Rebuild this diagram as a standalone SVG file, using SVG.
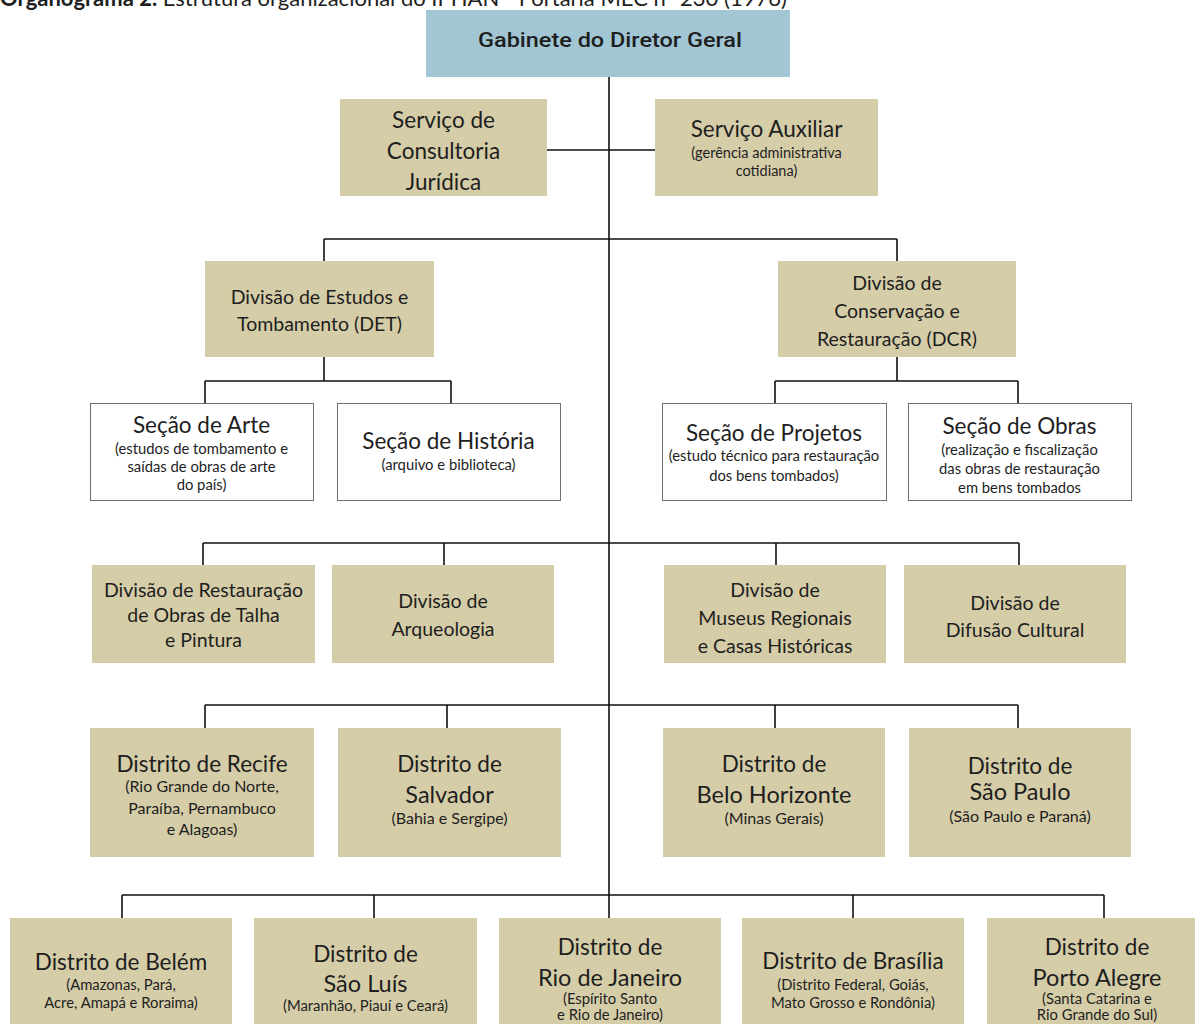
<svg xmlns="http://www.w3.org/2000/svg" width="1195" height="1024" viewBox="0 0 1195 1024">
<style>
.tan{fill:#d5cda8}
.wht{fill:#fff;stroke:#6e6e6e;stroke-width:1}
.blue{fill:#a2c6d4}
text{font-family:Lato,"Open Sans","Liberation Sans",sans-serif;fill:#1e1e1e;text-anchor:middle}
.t{font-size:22.5px}
.c{font-size:19.5px}
.s{font-size:14.5px}
.m{font-size:14.8px}
.d{font-size:16px}
.big{font-size:23.5px}
.conn path{stroke:#111;stroke-width:1.6;fill:none}
</style>
<text x="0" y="6" style="text-anchor:start;font-size:22px"><tspan font-weight="bold">Organograma 2.</tspan> Estrutura organizacional do IPHAN - Portaria MEC nº 230 (1976)</text>
<g class="conn">
<path d="M609 77V918"/>
<path d="M547 150H655"/>
<path d="M324 239H897M324 239V261M897 239V261"/>
<path d="M324 357V381M205 381H451M205 381V403M451 381V403"/>
<path d="M897 357V381M775 381H1018M775 381V403M1018 381V403"/>
<path d="M203 543H1019M203 543V565M444 543V565M776 543V565M1019 543V565"/>
<path d="M205 705H1018M205 705V728M447 705V728M775 705V728M1018 705V728"/>
<path d="M122 895H1104M122 895V918M374 895V918M853 895V918M1104 895V918"/>
</g>
<g id="gabinete"><rect class="blue" x="426" y="10" width="364" height="67"/><text x="610" y="47" textLength="264" lengthAdjust="spacingAndGlyphs" style="font-family:Roboto,'Liberation Sans',sans-serif;font-weight:500;font-size:21px">Gabinete do Diretor Geral</text></g>
<g id="consultoria"><rect class="tan" x="340" y="99" width="207" height="97"/><text class="t" x="443.5" y="128">Serviço de</text><text class="t" x="443.5" y="159">Consultoria</text><text class="t" x="443.5" y="190">Jurídica</text></g>
<g id="auxiliar"><rect class="tan" x="655" y="99" width="223" height="97"/><text class="t" x="766.5" y="137">Serviço Auxiliar</text><text class="s" x="766.5" y="158">(gerência administrativa</text><text class="s" x="766.5" y="176">cotidiana)</text></g>
<g id="det"><rect class="tan" x="205" y="261" width="229" height="96"/><text class="c" x="319.5" y="304">Divisão de Estudos e</text><text class="c" x="319.5" y="331">Tombamento (DET)</text></g>
<g id="dcr"><rect class="tan" x="778" y="261" width="238" height="96"/><text class="c" x="897" y="290">Divisão de</text><text class="c" x="897" y="318">Conservação e</text><text class="c" x="897" y="346">Restauração (DCR)</text></g>
<g id="arte"><rect class="wht" x="90.5" y="403.5" width="223" height="97"/><text class="t" x="201.5" y="433">Seção de Arte</text><text class="m" x="201.5" y="454">(estudos de tombamento e</text><text class="m" x="201.5" y="472">saídas de obras de arte</text><text class="m" x="201.5" y="490">do país)</text></g>
<g id="historia"><rect class="wht" x="337.5" y="403.5" width="223" height="97"/><text class="t" x="448.5" y="449">Seção de História</text><text class="m" x="448.5" y="470">(arquivo e biblioteca)</text></g>
<g id="projetos"><rect class="wht" x="662.5" y="403.5" width="224" height="97"/><text class="t" x="774" y="441">Seção de Projetos</text><text class="m" x="774" y="461">(estudo técnico para restauração</text><text class="m" x="774" y="481">dos bens tombados)</text></g>
<g id="obras"><rect class="wht" x="908.5" y="403.5" width="223" height="97"/><text class="t" x="1019.5" y="434">Seção de Obras</text><text class="m" x="1019.5" y="455">(realização e fiscalização</text><text class="m" x="1019.5" y="474">das obras de restauração</text><text class="m" x="1019.5" y="493">em bens tombados</text></g>
<g id="talha"><rect class="tan" x="92" y="565" width="223" height="98"/><text class="c" x="203.5" y="597">Divisão de Restauração</text><text class="c" x="203.5" y="622">de Obras de Talha</text><text class="c" x="203.5" y="647">e Pintura</text></g>
<g id="arqueologia"><rect class="tan" x="332" y="565" width="222" height="98"/><text class="c" x="443" y="608">Divisão de</text><text class="c" x="443" y="636">Arqueologia</text></g>
<g id="museus"><rect class="tan" x="664" y="565" width="222" height="98"/><text class="c" x="775" y="597">Divisão de</text><text class="c" x="775" y="625">Museus Regionais</text><text class="c" x="775" y="653">e Casas Históricas</text></g>
<g id="difusao"><rect class="tan" x="904" y="565" width="222" height="98"/><text class="c" x="1015" y="610">Divisão de</text><text class="c" x="1015" y="637">Difusão Cultural</text></g>
<g id="recife"><rect class="tan" x="90" y="728" width="224" height="129"/><text class="t" x="202" y="772">Distrito de Recife</text><text class="d" x="202" y="792">(Rio Grande do Norte,</text><text class="d" x="202" y="814">Paraíba, Pernambuco</text><text class="d" x="202" y="835">e Alagoas)</text></g>
<g id="salvador"><rect class="tan" x="338" y="728" width="223" height="129"/><text class="t" x="449.5" y="772">Distrito de</text><text class="big" x="449.5" y="803">Salvador</text><text class="d" x="449.5" y="824">(Bahia e Sergipe)</text></g>
<g id="belohorizonte"><rect class="tan" x="663" y="728" width="222" height="129"/><text class="t" x="774" y="772">Distrito de</text><text class="big" x="774" y="803">Belo Horizonte</text><text class="d" x="774" y="824">(Minas Gerais)</text></g>
<g id="saopaulo"><rect class="tan" x="909" y="728" width="222" height="129"/><text class="t" x="1020" y="774">Distrito de</text><text class="big" x="1020" y="799.5">São Paulo</text><text class="d" x="1020" y="822">(São Paulo e Paraná)</text></g>
<g id="belem"><rect class="tan" x="10" y="918" width="222" height="120"/><text class="t" x="121" y="970">Distrito de Belém</text><text class="m" x="121" y="990">(Amazonas, Pará,</text><text class="m" x="121" y="1008">Acre, Amapá e Roraima)</text></g>
<g id="saoluis"><rect class="tan" x="254" y="918" width="223" height="120"/><text class="t" x="365.5" y="962">Distrito de</text><text class="big" x="365.5" y="991.5">São Luís</text><text class="m" x="365.5" y="1011">(Maranhão, Piauí e Ceará)</text></g>
<g id="riodejaneiro"><rect class="tan" x="499" y="918" width="222" height="120"/><text class="t" x="610" y="954.5">Distrito de</text><text class="big" x="610" y="985.5">Rio de Janeiro</text><text class="m" x="610" y="1003.5">(Espírito Santo</text><text class="m" x="610" y="1020">e Rio de Janeiro)</text></g>
<g id="brasilia"><rect class="tan" x="742" y="918" width="222" height="120"/><text class="t" x="853" y="969">Distrito de Brasília</text><text class="m" x="853" y="990">(Distrito Federal, Goiás,</text><text class="m" x="853" y="1008">Mato Grosso e Rondônia)</text></g>
<g id="portoalegre"><rect class="tan" x="987" y="918" width="222" height="120"/><text class="t" x="1097" y="954.5">Distrito de</text><text class="big" x="1097" y="985.5">Porto Alegre</text><text class="m" x="1097" y="1003.5">(Santa Catarina e</text><text class="m" x="1097" y="1020">Rio Grande do Sul)</text></g>
</svg>
